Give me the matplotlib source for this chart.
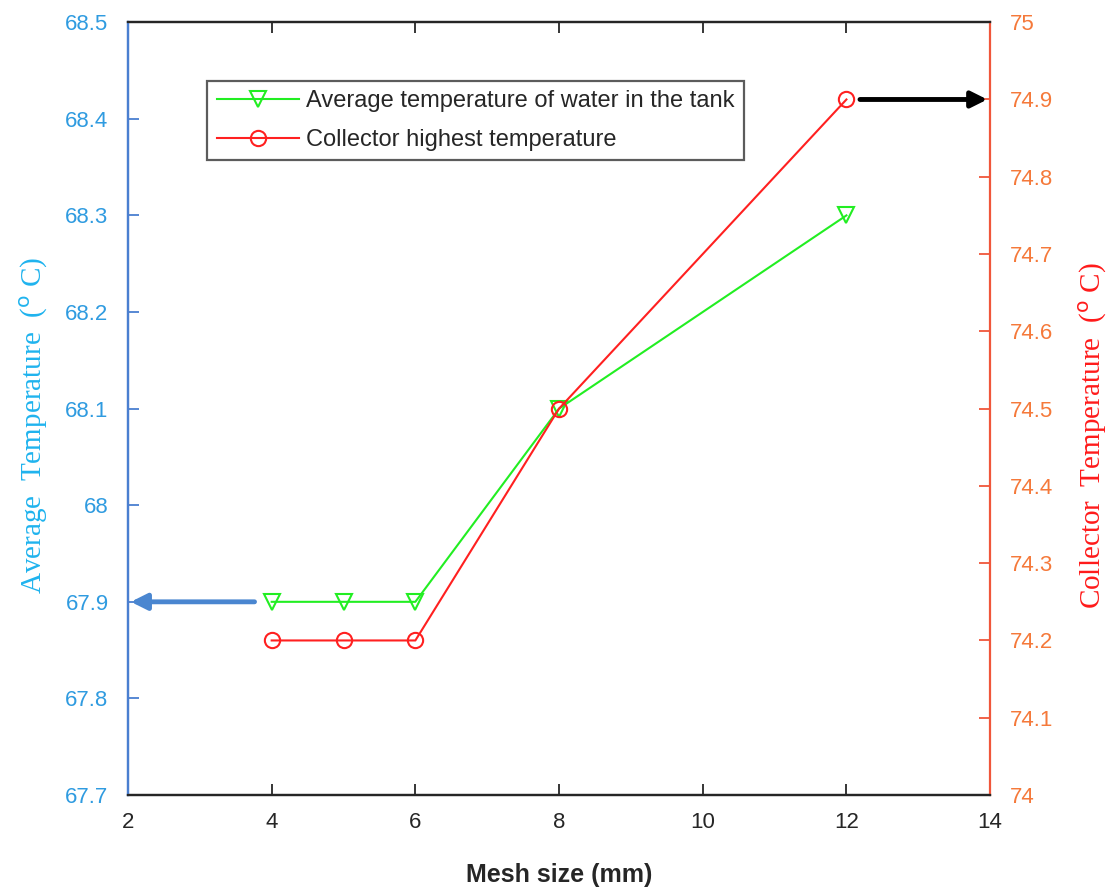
import matplotlib.pyplot as plt

### DATA

mesh = [4, 5, 6, 8, 12]
avg_temp = [67.9, 67.9, 67.9, 68.1, 68.3]
collector_temp = [74.2, 74.2, 74.2, 74.5, 74.9]
x_ticks = [2, 4, 6, 8, 10, 12, 14]
left_ticks = [67.7, 67.8, 67.9, 68, 68.1, 68.2, 68.3, 68.4, 68.5]
left_labels = ['67.7', '67.8', '67.9', '68', '68.1', '68.2', '68.3', '68.4', '68.5']
right_ticks = [74, 74.1, 74.2, 74.3, 74.4, 74.5, 74.6, 74.7, 74.8, 74.9, 75]
right_labels = ['74', '74.1', '74.2', '74.3', '74.4', '74.5', '74.6', '74.7', '74.8', '74.9', '75']

### FIGURE

plt.rcParams['font.family'] = ['Liberation Sans', 'DejaVu Sans']

fig = plt.figure(figsize=(11.1, 8.88), dpi=100)
ax = fig.add_axes([0.1153, 0.1047, 0.7767, 0.8703])
ax2 = ax.twinx()

blue_tick = '#2f9be0'
blue_spine = '#4a7fd0'
orange_tick = '#f5793a'
orange_spine = '#f0563a'

l1, = ax.plot(mesh, avg_temp, color='#22ee22', lw=1.5, marker='v', ms=11,
              mfc='none', mew=1.5, label='Average temperature of water in the tank')
l2, = ax2.plot(mesh, collector_temp, color='#ff2020', lw=1.5, marker='o', ms=11,
               mfc='none', mew=1.5, label='Collector highest temperature')

ax.set_xlim(2, 14)
ax.set_ylim(67.7, 68.5)
ax2.set_ylim(74, 75)
ax.set_xticks(x_ticks)
ax.set_yticks(left_ticks)
ax.set_yticklabels(left_labels)
ax2.set_yticks(right_ticks)
ax2.set_yticklabels(right_labels)

ax.tick_params(axis='x', direction='in', length=8, width=1.3, labelsize=16,
               colors='#262626', pad=12, top=True)
ax.tick_params(axis='y', direction='in', length=8, width=1.3, labelsize=16,
               colors=blue_spine, labelcolor=blue_tick, pad=14)
ax2.tick_params(axis='y', direction='in', length=8, width=1.3, labelsize=16,
                colors=orange_spine, labelcolor=orange_tick, pad=14)

for a in (ax, ax2):
    a.spines['top'].set_color('#262626')
    a.spines['bottom'].set_color('#262626')
ax2.spines['left'].set_color(blue_spine)
ax2.spines['right'].set_color(orange_spine)
ax.spines['left'].set_color(blue_spine)
ax.spines['right'].set_visible(False)
for a in (ax, ax2):
    for s in a.spines.values():
        s.set_linewidth(1.6)

ax.set_xlabel('Mesh size (mm)', fontsize=18, fontweight='bold', color='#262626', labelpad=22)
ax.set_ylabel('Average  Temperature  ($^{\\mathrm{o}}$ C)', fontsize=21,
              family='Liberation Serif', color='#1fb3ee')
ax2.set_ylabel('Collector  Temperature  ($^{\\mathrm{o}}$ C)', fontsize=21,
               family='Liberation Serif', color='#ff1a1a')
ax.yaxis.set_label_coords(-0.09, 0.478)
ax2.yaxis.set_label_coords(1.101, 0.465)

# arrows pointing to each axis
ax.annotate('', xy=(2, 67.9), xytext=(3.8, 67.9),
            arrowprops=dict(arrowstyle='-|>', color='#4a86d0', lw=3.5, mutation_scale=24))
ax2.annotate('', xy=(14, 74.9), xytext=(12.15, 74.9),
             arrowprops=dict(arrowstyle='-|>', color='black', lw=3.5, mutation_scale=24))

leg = ax2.legend(handles=[l1, l2], loc='upper left', bbox_to_anchor=(0.092, 0.924),
                 borderaxespad=0, fontsize=17, frameon=True, fancybox=False,
                 edgecolor='#333333', handlelength=3.5, borderpad=0.4,
                 labelspacing=0.7, handletextpad=0.3)
leg.get_frame().set_linewidth(1.6)
for txt in leg.get_texts():
    txt.set_color('#262626')

fig.savefig('out.png', dpi=100)
